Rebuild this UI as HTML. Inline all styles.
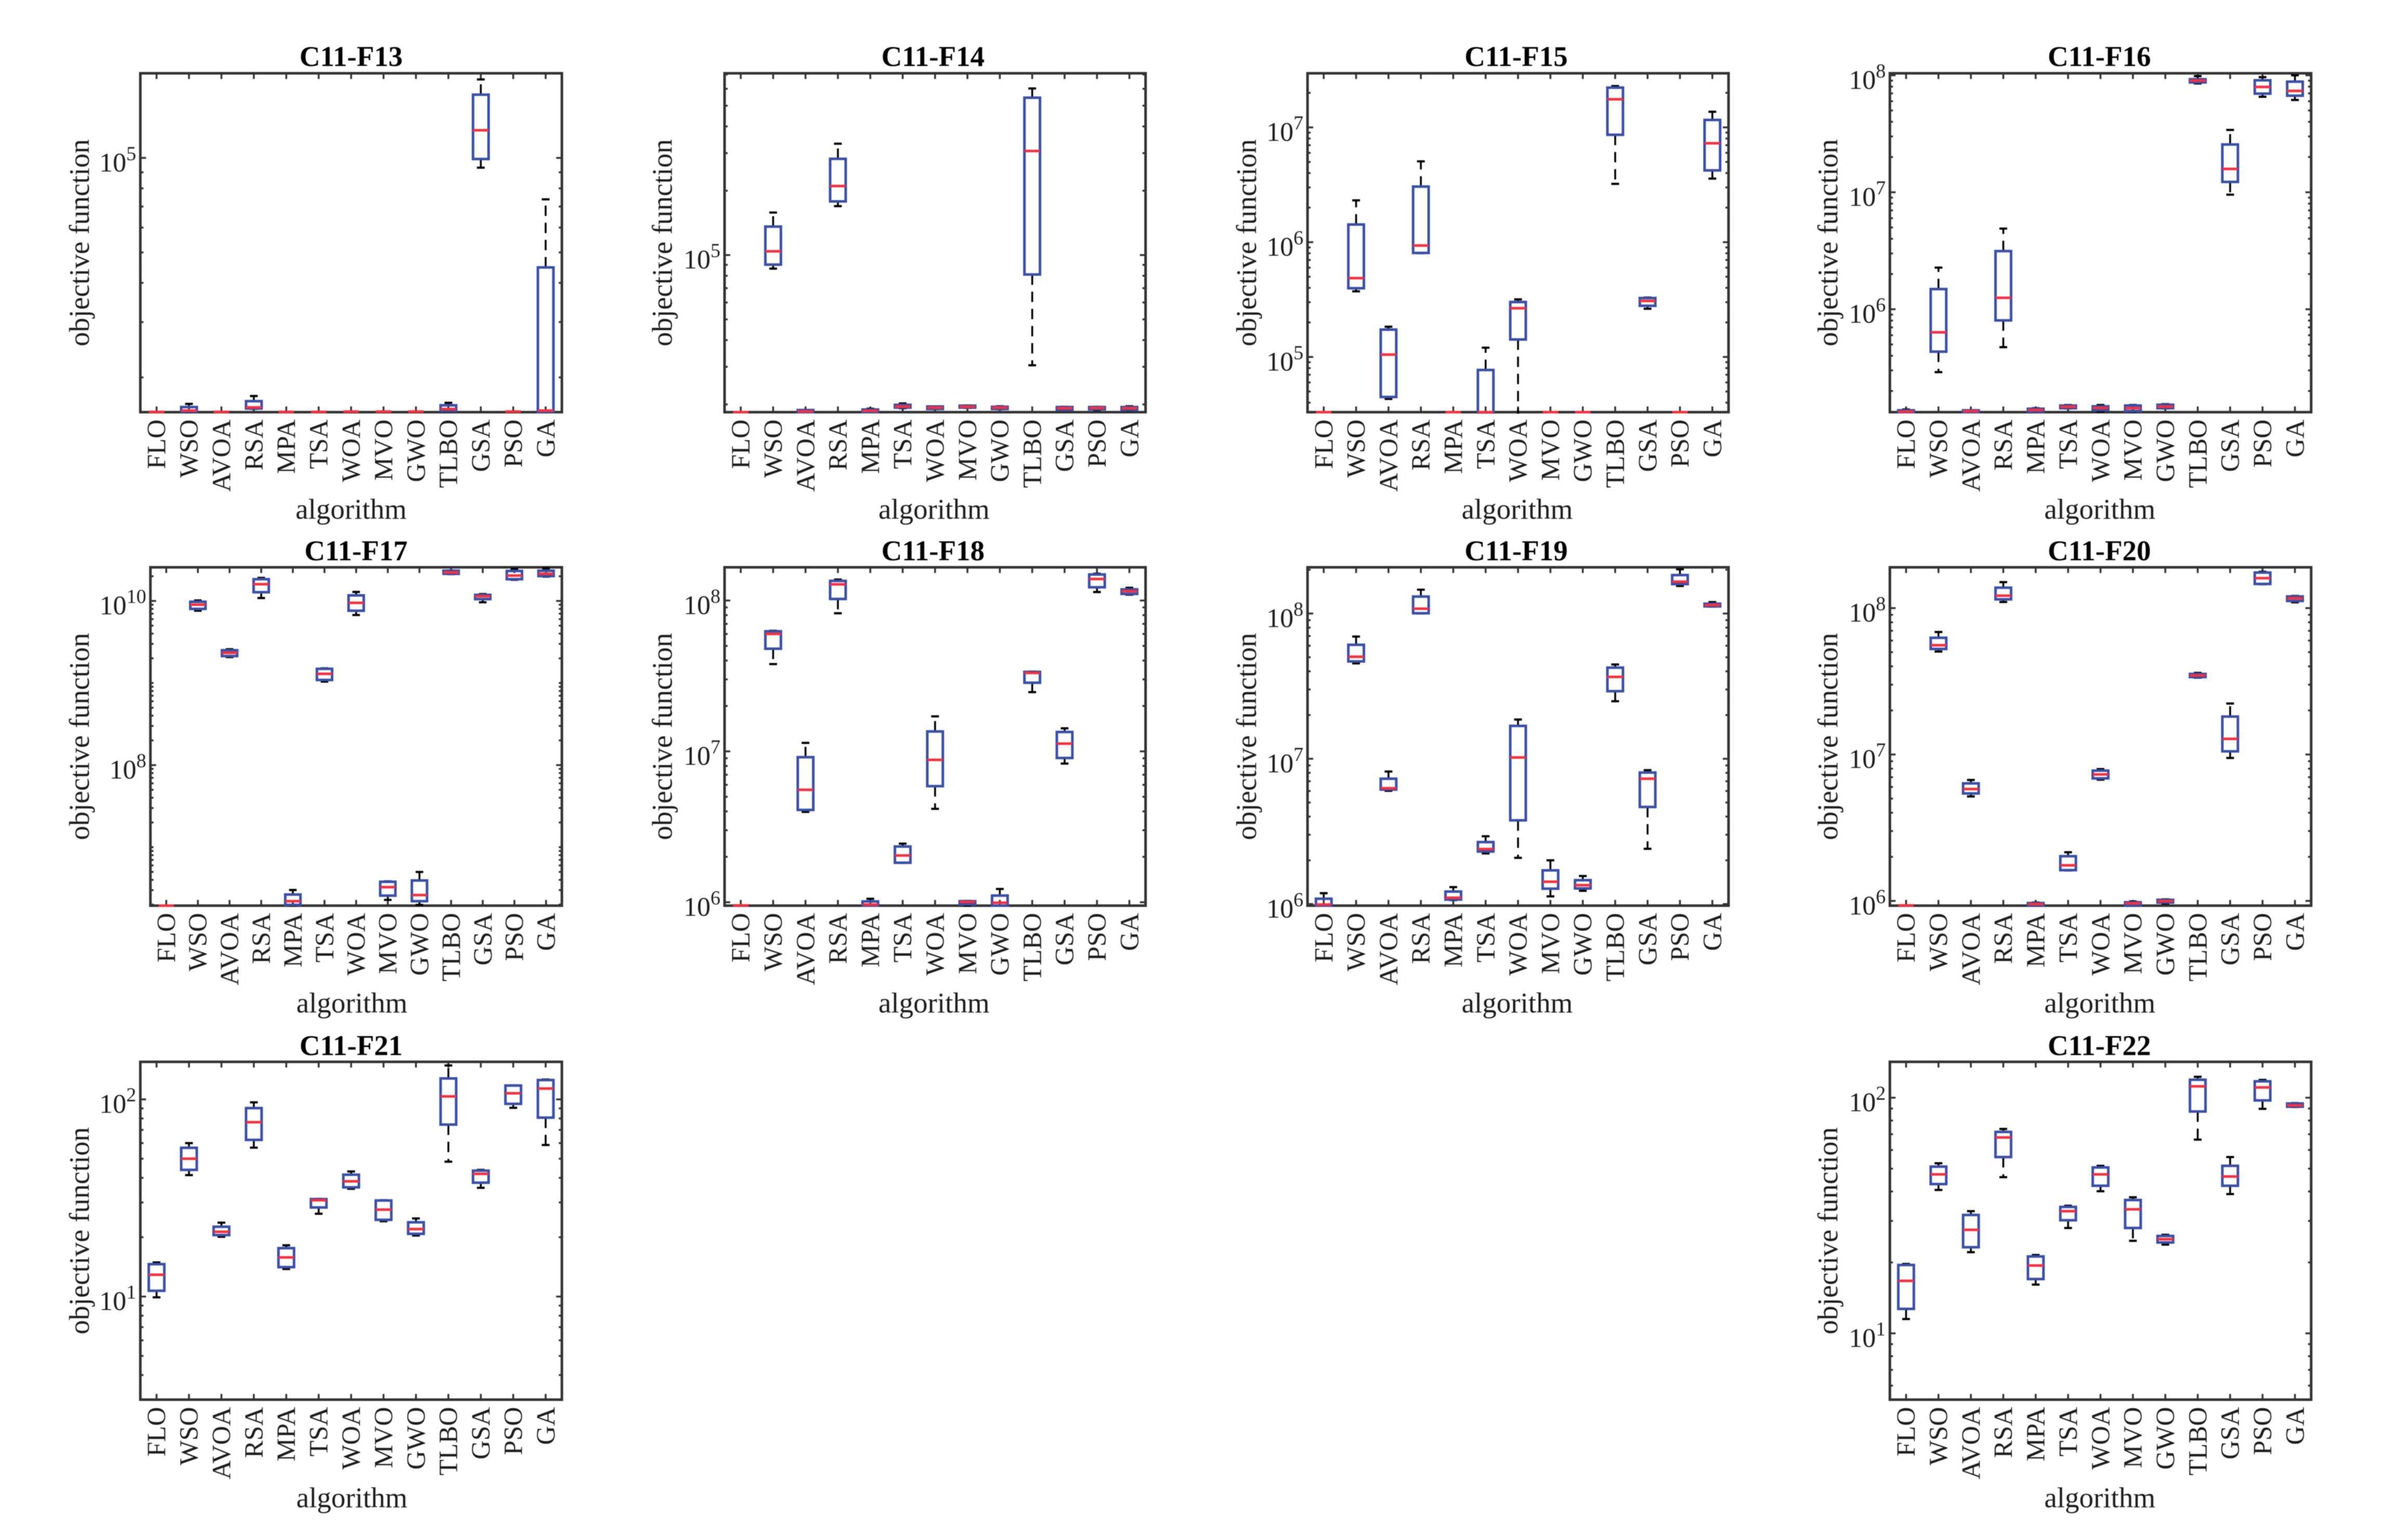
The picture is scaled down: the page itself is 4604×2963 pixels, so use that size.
<!DOCTYPE html>
<html lang="en">
<head>
<meta charset="utf-8">
<title>C11 benchmark boxplots</title>
<style>
html,body{margin:0;padding:0;background:#fff;width:4604px;height:2963px;overflow:hidden}
svg{display:block;filter:blur(0.7px)}
text{font-family:"Liberation Serif",serif;fill:#1c1c1c}
.title{font-size:55px;font-weight:bold;text-anchor:middle;fill:#000}
.xlab{font-size:55px;text-anchor:middle}
.ylab{font-size:55px;text-anchor:middle}
</style>
</head>
<body>
<svg id="figure" xmlns="http://www.w3.org/2000/svg" width="4604" height="2963" viewBox="0 0 4604 2963">
<rect x="0" y="0" width="4604" height="2963" fill="#fff"/>

<g id="panel-f13">
<text class="title" x="675.5" y="127">C11-F13</text>
<text class="xlab" x="675.5" y="998">algorithm</text>
<text class="ylab" transform="translate(171 467) rotate(-90)">objective function</text>
</g>
<g id="panel-f14">
<text class="title" x="1795" y="127">C11-F14</text>
<text class="xlab" x="1797" y="998">algorithm</text>
<text class="ylab" transform="translate(1292.5 467) rotate(-90)">objective function</text>
</g>
<g id="panel-f15">
<text class="title" x="2917" y="127">C11-F15</text>
<text class="xlab" x="2919" y="998">algorithm</text>
<text class="ylab" transform="translate(2416.5 467) rotate(-90)">objective function</text>
</g>
<g id="panel-f16">
<text class="title" x="4039" y="127">C11-F16</text>
<text class="xlab" x="4040" y="998">algorithm</text>
<text class="ylab" transform="translate(3535 467) rotate(-90)">objective function</text>
</g>

<g id="panel-f17">
<text class="title" x="685" y="1078">C11-F17</text>
<text class="xlab" x="677" y="1948">algorithm</text>
<text class="ylab" transform="translate(171 1417) rotate(-90)">objective function</text>
</g>
<g id="panel-f18">
<text class="title" x="1795" y="1078">C11-F18</text>
<text class="xlab" x="1797" y="1948">algorithm</text>
<text class="ylab" transform="translate(1292.5 1417) rotate(-90)">objective function</text>
</g>
<g id="panel-f19">
<text class="title" x="2917" y="1078">C11-F19</text>
<text class="xlab" x="2919" y="1948">algorithm</text>
<text class="ylab" transform="translate(2416.5 1417) rotate(-90)">objective function</text>
</g>
<g id="panel-f20">
<text class="title" x="4039" y="1078">C11-F20</text>
<text class="xlab" x="4040" y="1948">algorithm</text>
<text class="ylab" transform="translate(3535 1417) rotate(-90)">objective function</text>
</g>

<g id="panel-f21">
<text class="title" x="675.5" y="2030">C11-F21</text>
<text class="xlab" x="677" y="2900">algorithm</text>
<text class="ylab" transform="translate(171 2368) rotate(-90)">objective function</text>
</g>
<g id="panel-f22">
<text class="title" x="4039" y="2030">C11-F22</text>
<text class="xlab" x="4040" y="2900">algorithm</text>
<text class="ylab" transform="translate(3535 2368) rotate(-90)">objective function</text>
</g>
</svg>

<script>
const categories = ["FLO","WSO","AVOA","RSA","MPA","TSA","WOA","MVO","GWO","TLBO","GSA","PSO","GA"];

const f13Lim = [15500, 186000];
const f13Ticks = [5];
const f13Hi  = [15530,16470,15530,17450,15530,15530,15570,15570,15570,16600,177800,15570,73800];
const f13Q3  = [15530,16090,15530,16800,15530,15530,15570,15570,15570,16300,159000,15570,44800];
const f13Med = [15530,15680,15530,16050,15530,15530,15570,15570,15570,15850,122500,15570,15680];
const f13Q1  = [15530,15570,15530,15920,15530,15530,15570,15570,15570,15650,99200,15570,15530];
const f13Lo  = [15530,15530,15530,15880,15530,15530,15570,15570,15570,15610,93100,15570,15530];

const f14Lim = [18400, 709000];
const f14Ticks = [5];
const f14Hi  = [18400,158100,18820,332000,19090,20210,19560,19790,19610,602000,19500,19500,19610];
const f14Q3  = [18400,135900,18820,282000,18930,19910,19560,19730,19500,545000,19440,19440,19440];
const f14Med = [18400,104100,18560,210500,18660,19560,19320,19500,19320,307000,19200,19260,19200];
const f14Q1  = [18400,90200,18400,178300,18400,19320,19040,19320,19040,81100,18870,18980,18870];
const f14Lo  = [18400,86400,18400,169400,18400,19200,18980,19260,18980,30500,18820,18820,18770];

const f15Lim = [33050, 2.96e7];
const f15Ticks = [5,6,7];
const f15Hi  = [33050,2.313e6,183500,5.06e6,33050,120500,317500,33050,33050,2.29e7,329500,33050,1.369e7];
const f15Q3  = [33050,1.425e6,173100,3.05e6,33050,77000,301000,33050,33050,2.22e7,326000,33050,1.161e7];
const f15Med = [33050,486000,104900,935000,33050,33050,266000,33050,33050,1.758e7,307500,33050,7.27e6];
const f15Q1  = [33050,397000,44800,806000,33050,32000,142000,33050,33050,8.62e6,279000,33050,4.22e6];
const f15Lo  = [33050,373000,43100,802000,33050,30000,30000,33050,33050,3.22e6,263000,33050,3.58e6];

const f16Lim = [131900, 1.04e8];
const f16Ticks = [6,7,8];
const f16Hi  = [139000,2.27e6,136800,4.89e6,142600,151800,151800,151800,154400,9.84e7,3.41e7,9.64e7,1.0e8];
const f16Q3  = [136800,1.487e6,136800,3.14e6,141100,150200,147900,150200,152600,9.25e7,2.56e7,9.06e7,8.82e7];
const f16Med = [133300,635000,134700,1.252e6,137500,146400,143300,142600,147100,9.01e7,1.583e7,7.95e7,7.35e7];
const f16Q1  = [131900,434000,131900,803000,133300,142600,137500,134700,142600,8.69e7,1.226e7,6.97e7,6.69e7];
const f16Lo  = [131900,290000,131900,474000,132600,141800,134000,133300,141800,8.51e7,9.54e6,6.55e7,6.15e7];

const f17Lim = [1.94e6, 2.57e10];
const f17Ticks = [8,10];
const f17Hi  = [1.94e6,1.015e10,2.58e9,1.91e10,3.01e6,1.511e9,1.288e10,3.84e6,4.99e6,2.35e10,1.213e10,2.46e10,2.50e10];
const f17Q3  = [1.94e6,9.78e9,2.51e9,1.84e10,2.65e6,1.489e9,1.169e10,3.79e6,3.93e6,2.335e10,1.187e10,2.32e10,2.335e10];
const f17Med = [1.94e6,9.01e9,2.33e9,1.60e10,2.20e6,1.293e9,9.49e9,3.26e6,2.61e6,2.23e10,1.143e10,2.04e10,2.14e10];
const f17Q1  = [1.94e6,8.00e9,2.13e9,1.278e10,1.98e6,1.089e9,7.60e9,2.57e6,2.20e6,2.14e10,1.053e10,1.84e10,2.01e10];
const f17Lo  = [1.94e6,7.60e9,2.07e9,1.085e10,1.94e6,1.042e9,6.74e9,2.28e6,1.98e6,2.12e10,9.63e9,1.81e10,1.98e10];

const f18Lim = [9.49e5, 1.66e8];
const f18Ticks = [6,7,8];
const f18Hi  = [9.53e5,6.30e7,1.138e7,1.377e8,1.054e6,2.445e6,1.706e7,1.02e6,1.224e6,3.38e7,1.422e7,1.505e8,1.214e8];
const f18Q3  = [9.53e5,6.25e7,9.15e6,1.349e8,1.012e6,2.34e6,1.355e7,1.016e6,1.107e6,3.365e7,1.344e7,1.487e8,1.185e8];
const f18Med = [9.53e5,6.01e7,5.56e6,1.28e8,9.64e5,2.04e6,8.78e6,1.004e6,9.92e5,3.31e7,1.125e7,1.388e8,1.152e8];
const f18Q1  = [9.53e5,4.79e7,4.09e6,1.024e8,9.49e5,1.827e6,5.88e6,9.68e5,9.49e5,2.85e7,9.04e6,1.224e8,1.106e8];
const f18Lo  = [9.53e5,3.79e7,3.97e6,8.23e7,9.49e5,1.82e6,4.16e6,9.49e5,9.49e5,2.47e7,8.30e6,1.138e8,1.093e8];

const f19Lim = [9.75e5, 2.08e8];
const f19Ticks = [6,7,8];
const f19Hi  = [1.188e6,6.94e7,8.17e6,1.459e8,1.308e6,2.93e6,1.863e7,2.0e6,1.56e6,4.46e7,8.35e6,2.017e8,1.198e8];
const f19Q3  = [1.088e6,6.09e7,7.29e6,1.308e8,1.219e6,2.67e6,1.684e7,1.706e6,1.46e6,4.24e7,8.04e6,1.839e8,1.168e8];
const f19Med = [9.92e5,5.04e7,6.27e6,1.079e8,1.106e6,2.39e6,1.021e7,1.424e6,1.348e6,3.66e7,7.29e6,1.656e8,1.144e8];
const f19Q1  = [9.75e5,4.68e7,6.14e6,1.004e8,1.074e6,2.30e6,3.77e6,1.276e6,1.281e6,2.92e7,4.66e6,1.594e8,1.12e8];
const f19Lo  = [9.75e5,4.54e7,6.02e6,1.0e8,1.065e6,2.23e6,2.08e6,1.13e6,1.234e6,2.49e7,2.40e6,1.548e8,1.115e8];

const f20Lim = [9.28e5, 1.90e8];
const f20Ticks = [6,7,8];
const f20Hi  = [9.32e5,6.87e7,6.70e6,1.505e8,9.75e5,2.15e6,7.95e6,9.92e5,1.025e6,3.61e7,2.23e7,1.771e8,1.211e8];
const f20Q3  = [9.32e5,6.27e7,6.35e6,1.379e8,9.67e5,2.02e6,7.76e6,9.79e5,1.017e6,3.55e7,1.816e7,1.749e8,1.201e8];
const f20Med = [9.32e5,5.58e7,5.81e6,1.216e8,9.51e5,1.75e6,7.31e6,9.63e5,9.96e5,3.47e7,1.279e7,1.602e8,1.167e8];
const f20Q1  = [9.32e5,5.26e7,5.42e6,1.148e8,9.32e5,1.622e6,6.87e6,9.32e5,9.75e5,3.38e7,1.051e7,1.462e8,1.119e8];
const f20Lo  = [9.32e5,5.05e7,5.17e6,1.101e8,9.28e5,1.615e6,6.73e6,9.28e5,9.59e5,3.35e7,9.47e6,1.455e8,1.096e8];

const f21Lim = [3.0, 155];
const f21Ticks = [1,2];
const f21Hi  = [14.9,60.0,23.7,96.6,18.2,31.3,43.1,30.8,24.9,148.6,43.9,117.8,126.1];
const f21Q3  = [14.6,56.8,22.6,90.3,17.6,31.2,41.5,30.7,23.8,127.7,43.5,117.5,125.3];
const f21Med = [12.9,50.0,21.3,76.6,15.8,30.8,38.4,27.6,22.0,103.5,41.9,107.4,113.5];
const f21Q1  = [10.7,43.9,20.5,62.3,14.1,28.3,35.8,24.5,20.8,74.5,37.8,94.9,80.8];
const f21Lo  = [9.91,41.3,20.1,56.9,13.8,26.3,35.2,24.1,20.4,48.3,35.6,90.6,58.7];

const f22Lim = [5.23, 142];
const f22Ticks = [1,2];
const f22Hi  = [19.7,52.7,33.0,73.7,21.5,34.8,51.4,37.8,26.2,122.7,56.0,119,94.9];
const f22Q3  = [19.5,51.0,31.8,71.6,21.2,34.4,50.6,36.8,25.9,119.2,51.4,117.4,94.5];
const f22Med = [16.7,47.3,27.5,67.8,19.4,33.0,47.3,33.6,25.1,111.8,46.3,110.6,92.8];
const f22Q1  = [12.7,43.0,23.2,56.0,17.0,30.2,42.3,28.0,24.3,87.4,42.3,97.4,91.6];
const f22Lo  = [11.5,40.6,22.1,46.0,16.1,28.0,40.1,24.7,23.8,66.4,39.0,89.7,91.3];

const SVGNS = "http://www.w3.org/2000/svg";
const COL_L = [270, 1394, 2515.6, 3636];
const COL_R = [1081, 2204, 3325.6, 4446.5];
const ROW_T = [141, 1091.5, 2043];
const ROW_B = [793, 1742.5, 2693];

const panels = [
  {id:"f13", col:0, row:0, lim:f13Lim, ticks:f13Ticks, hi:f13Hi, q3:f13Q3, med:f13Med, q1:f13Q1, lo:f13Lo},
  {id:"f14", col:1, row:0, lim:f14Lim, ticks:f14Ticks, hi:f14Hi, q3:f14Q3, med:f14Med, q1:f14Q1, lo:f14Lo},
  {id:"f15", col:2, row:0, lim:f15Lim, ticks:f15Ticks, hi:f15Hi, q3:f15Q3, med:f15Med, q1:f15Q1, lo:f15Lo},
  {id:"f16", col:3, row:0, lim:f16Lim, ticks:f16Ticks, hi:f16Hi, q3:f16Q3, med:f16Med, q1:f16Q1, lo:f16Lo},
  {id:"f17", col:0, row:1, left:289.4, lim:f17Lim, ticks:f17Ticks, hi:f17Hi, q3:f17Q3, med:f17Med, q1:f17Q1, lo:f17Lo},
  {id:"f18", col:1, row:1, lim:f18Lim, ticks:f18Ticks, hi:f18Hi, q3:f18Q3, med:f18Med, q1:f18Q1, lo:f18Lo},
  {id:"f19", col:2, row:1, lim:f19Lim, ticks:f19Ticks, hi:f19Hi, q3:f19Q3, med:f19Med, q1:f19Q1, lo:f19Lo},
  {id:"f20", col:3, row:1, lim:f20Lim, ticks:f20Ticks, hi:f20Hi, q3:f20Q3, med:f20Med, q1:f20Q1, lo:f20Lo},
  {id:"f21", col:0, row:2, lim:f21Lim, ticks:f21Ticks, hi:f21Hi, q3:f21Q3, med:f21Med, q1:f21Q1, lo:f21Lo},
  {id:"f22", col:3, row:2, lim:f22Lim, ticks:f22Ticks, hi:f22Hi, q3:f22Q3, med:f22Med, q1:f22Q1, lo:f22Lo}
];

function node(tag, attrs, parent) {
  const e = document.createElementNS(SVGNS, tag);
  for (const k in attrs) e.setAttribute(k, attrs[k]);
  parent.appendChild(e);
  return e;
}

function drawPanel(p) {
  const group = document.getElementById("panel-" + p.id);
  const l = p.left !== undefined ? p.left : COL_L[p.col];
  const r = COL_R[p.col];
  const t = ROW_T[p.row];
  const b = ROW_B[p.row];
  const logLo = Math.log10(p.lim[0]);
  const logHi = Math.log10(p.lim[1]);
  const yOf = function (v) { return b - (Math.log10(v) - logLo) / (logHi - logLo) * (b - t); };
  const step = (r - l) / categories.length;
  const xOf = function (i) { return l + step * (i + 0.5); };
  const halfBox = step * 0.24;
  const halfCap = step * 0.12;

  const clip = node("clipPath", {id: "clip-" + p.id}, group);
  node("rect", {x: l - 3, y: t - 3, width: r - l + 6, height: b - t + 6}, clip);

  const frame = node("rect", {x: l, y: t, width: r - l, height: b - t, fill: "none", stroke: "#333", "stroke-width": 5}, group);
  
  

  categories.forEach(function (name, i) {
    const x = xOf(i);
    const tickB = node("line", {x1: x, x2: x, y1: b, y2: b - 11, stroke: "#333", "stroke-width": 3.6}, group);
    
    
    const tickT = node("line", {x1: x, x2: x, y1: t, y2: t + 11, stroke: "#333", "stroke-width": 3.6}, group);
    
    
    const label = node("text", {transform: "translate(" + (x + 17) + " " + (b + 14) + ") rotate(-90)", "text-anchor": "end", "font-size": 50.5}, group);
    label.textContent = name;
    
    
  });

  for (let k = Math.floor(logLo); k <= Math.ceil(logHi); k++) {
    for (let m = 1; m <= 9; m++) {
      const v = m * Math.pow(10, k);
      if (v < p.lim[0] || v > p.lim[1]) continue;
      const major = m === 1 && p.ticks.indexOf(k) >= 0;
      const len = major ? 11 : 6;
      const y = yOf(v);
      const tickL = node("line", {x1: l, x2: l + len, y1: y, y2: y, stroke: "#333", "stroke-width": 3.6}, group);
      
      
      const tickR = node("line", {x1: r, x2: r - len, y1: y, y2: y, stroke: "#333", "stroke-width": 3.6}, group);
      
      
      if (major) {
        const label = node("text", {x: l - 8, y: y + 26, "text-anchor": "end", "font-size": 52}, group);
        
        
        label.appendChild(document.createTextNode("10"));
        const sup = node("tspan", {dy: -22, "font-size": 38}, label);
        sup.textContent = String(k);
      }
    }
  }

  const marks = node("g", {"clip-path": "url(#clip-" + p.id + ")"}, group);
  
  

  categories.forEach(function (name, i) {
    const key = p.id + "-" + name.toLowerCase();
    const x = xOf(i);
    const yHi = yOf(p.hi[i]);
    const yQ3 = yOf(p.q3[i]);
    const yMed = yOf(p.med[i]);
    const yQ1 = yOf(p.q1[i]);
    const yLo = yOf(p.lo[i]);

    const whiskerUp = node("line", {x1: x, x2: x, y1: yQ3, y2: yHi, stroke: "#000", "stroke-width": 3.6, "stroke-dasharray": "20 13"}, marks);
    
    
    const whiskerDown = node("line", {x1: x, x2: x, y1: yQ1, y2: yLo, stroke: "#000", "stroke-width": 3.6, "stroke-dasharray": "20 13"}, marks);
    
    
    const capUp = node("line", {x1: x - halfCap, x2: x + halfCap, y1: yHi, y2: yHi, stroke: "#000", "stroke-width": 4.2}, marks);
    
    
    const capDown = node("line", {x1: x - halfCap, x2: x + halfCap, y1: yLo, y2: yLo, stroke: "#000", "stroke-width": 4.2}, marks);
    
    

    const box = node("rect", {x: x - halfBox, y: yQ3, width: halfBox * 2, height: Math.max(yQ1 - yQ3, 0), fill: "none", stroke: "#3a4fa6", "stroke-width": 5}, marks);
    
    

    const median = node("line", {x1: x - halfBox, x2: x + halfBox, y1: yMed, y2: yMed, stroke: "#f5303f", "stroke-width": 5}, marks);
    
    
  });
}

panels.forEach(drawPanel);
</script>
</body>
</html>
